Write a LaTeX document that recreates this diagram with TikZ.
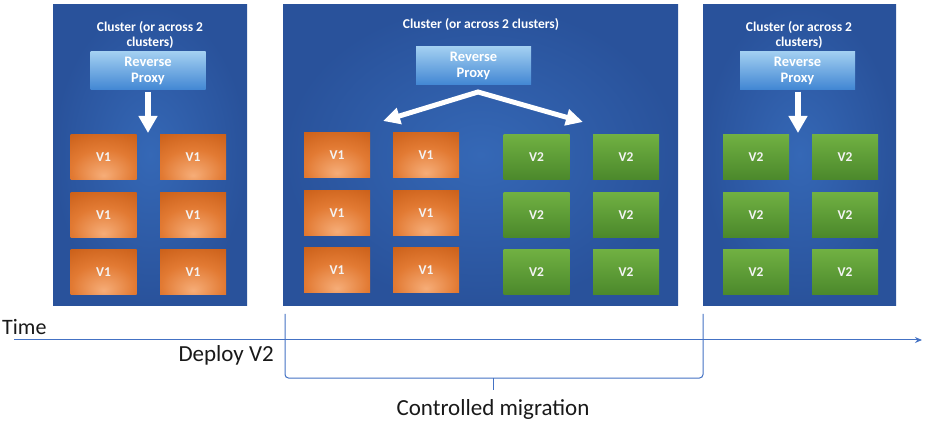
\documentclass[tikz,border=0pt]{standalone}
\usepackage{fontspec}
\setmainfont{Carlito}
\usetikzlibrary{arrows.meta}
\definecolor{panelin}{HTML}{3568B6}
\definecolor{panelout}{HTML}{29529B}
\definecolor{ord}{HTML}{C2560F}
\definecolor{orm}{HTML}{E27A33}
\definecolor{orl}{HTML}{F6AD78}
\definecolor{grtop}{HTML}{70B042}
\definecolor{grbot}{HTML}{4B882B}
\definecolor{pxtop}{HTML}{A2CFF1}
\definecolor{pxbot}{HTML}{4186D3}
\definecolor{tline}{HTML}{4472C4}
\definecolor{boxtext}{HTML}{F4F4F4}
\pgfdeclareradialshading{orangeglow}{\pgfpoint{0bp}{-20bp}}{color(0bp)=(orl); color(24bp)=(orm); color(52bp)=(ord); color(90bp)=(ord)}
\tikzset{
  panel/.style={draw=none, inner color=panelin, outer color=panelout, anchor=north west, inner sep=0pt},
  ttl/.style={text=white, font=\bfseries\fontsize{13.5}{15.5}\selectfont, align=center, inner sep=0pt},
  proxy/.style={top color=pxtop, bottom color=pxbot, minimum width=115pt, minimum height=38pt, inner sep=0pt, text=white, font=\bfseries\fontsize{14.5}{16}\selectfont, align=center},
  vone/.style={shading=orangeglow, minimum width=66pt, minimum height=45pt, inner sep=0pt, text=boxtext, font=\bfseries\fontsize{13.5}{15}\selectfont},
  vtwo/.style={top color=grtop, bottom color=grbot, minimum width=66pt, minimum height=45pt, inner sep=0pt, text=boxtext, font=\bfseries\fontsize{13.5}{15}\selectfont},
  bigarrow/.style={draw=white, line width=6.5pt, -{Triangle[width=18pt,length=17pt]}},
  midarrow/.style={draw=white, line width=5pt, line join=miter, {Triangle[width=16pt,length=17pt]}-{Triangle[width=16pt,length=17pt]}},
  tlabel/.style={text=black!90, inner sep=0pt},
  timeline/.style={draw=tline, line width=1pt},
}
\begin{document}
\begin{tikzpicture}[x=1pt,y=-1pt]
\useasboundingbox[fill=white] (0,0) rectangle (930,422);
% panels
\node[panel, minimum width=194pt, minimum height=301pt] (p1) at (53,4) {};
\node[panel, minimum width=395pt, minimum height=301pt] (p2) at (283,4) {};
\node[panel, minimum width=193pt, minimum height=301pt] (p3) at (703,4) {};
% titles
\node[ttl] (t1) at (150,35) {Cluster (or across 2\\clusters)};
\node[ttl] (t2) at (481,25) {Cluster (or across 2 clusters)};
\node[ttl] (t3) at (799,35) {Cluster (or across 2\\clusters)};
% proxies
\node[proxy] (x1) at (148,71) {Reverse\\Proxy};
\node[proxy] (x2) at (473.5,66) {Reverse\\Proxy};
\node[proxy] (x3) at (797.5,70.5) {Reverse\\Proxy};
% panel 1 boxes
\foreach \c/\x in {1/103.5,2/193} \foreach \r/\y in {1/157.5,2/215.5,3/272.5}
  \node[vone] (a\c\r) at (\x,\y) {V1};
% panel 2 boxes
\foreach \c/\x in {1/337,2/426} \foreach \r/\y in {1/155,2/213.5,3/270.5}
  \node[vone] (b\c\r) at (\x,\y) {V1};
\foreach \c/\x in {1/536.5,2/626} \foreach \r/\y in {1/157.5,2/215,3/272.5}
  \node[vtwo] (g\c\r) at (\x,\y) {V2};
% panel 3 boxes
\foreach \c/\x in {1/756,2/845} \foreach \r/\y in {1/157.5,2/215,3/272.5}
  \node[vtwo] (h\c\r) at (\x,\y) {V2};
% arrows
\coordinate (e1) at (148,133);
\coordinate (e3) at (798,133);
\coordinate (apex) at (478,92);
\coordinate (eleft) at (383,121);
\coordinate (eright) at (583,122);
\draw[bigarrow, shorten <=2pt] (x1.south) -- (e1);
\draw[bigarrow, shorten <=2pt] (x3.south -| e3) -- (e3);
\draw[midarrow] (eleft) -- (apex) -- (eright);
% timeline
\coordinate (ts) at (14,340);
\coordinate (te) at (922,340);
\draw[timeline, -{Stealth[length=7pt,width=6pt]}] (ts) -- (te);
\node[tlabel, anchor=base west, font=\fontsize{22}{24}\selectfont] (time) at (2,335) {Time};
\node[tlabel, anchor=base east, font=\fontsize{23}{25}\selectfont] (dep) at (274,362) {Deploy V2};
% bracket
\coordinate (bl) at (285,314);
\coordinate (br) at (703,314);
\coordinate (bm) at (493,378);
\coordinate (bt) at (493,390);
\draw[timeline, rounded corners=3.5pt] (bl) |- (bm) -| (br);
\draw[timeline] (bm) -- (bt);
\node[tlabel, anchor=base, font=\fontsize{23}{25}\selectfont] (cm) at (493,415) {Controlled migration};
\end{tikzpicture}
\end{document}
